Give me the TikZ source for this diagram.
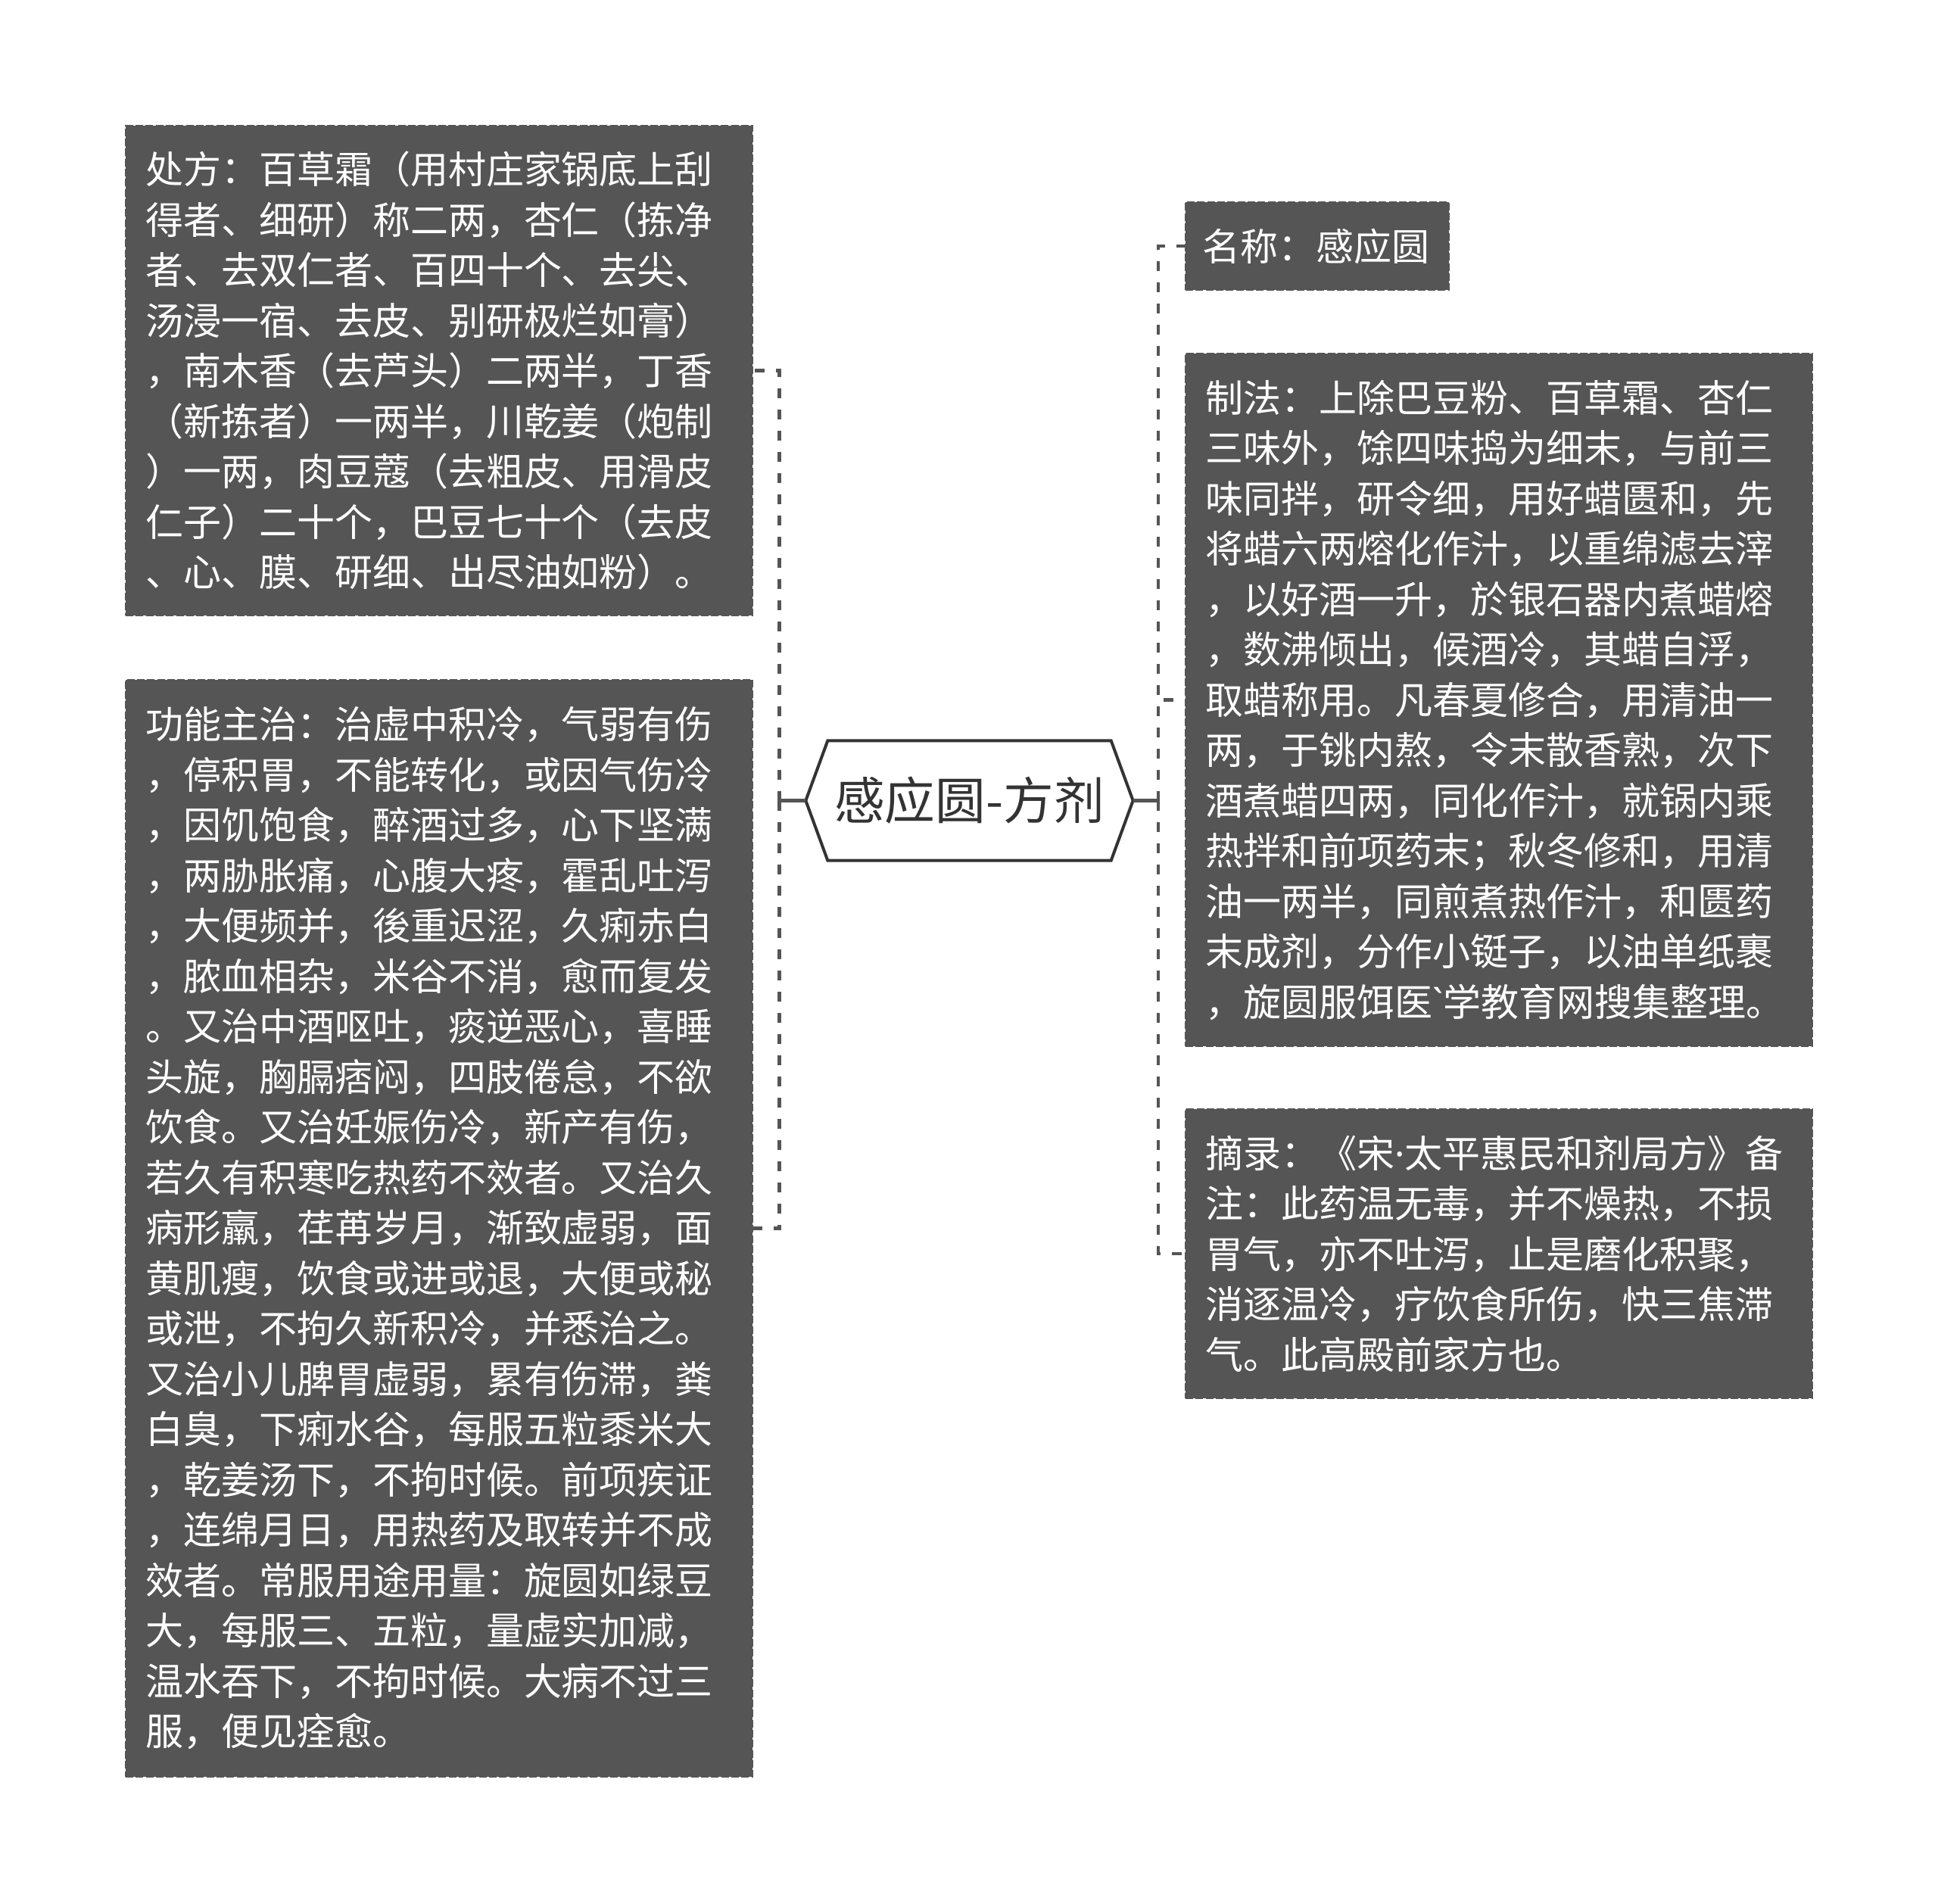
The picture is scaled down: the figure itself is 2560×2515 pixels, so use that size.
\documentclass[tikz,border=0pt]{standalone}
\usepackage{fontspec}
\setmainfont{Noto Sans CJK SC}
\newfontfamily\latinfont{Noto Sans}
\definecolor{BoxGray}{RGB}{85, 85, 85}
\definecolor{InkDark}{RGB}{51, 51, 51}
\usetikzlibrary{arrows.meta, positioning, calc}

\begin{document}
\begin{tikzpicture}[
        x=0.3pt, y=-0.3pt,
        leaf/.style={rectangle, draw=BoxGray, fill=BoxGray, dash pattern=on 3pt off 1pt, line width=0.7pt, text=white, align=left, text width=232.8pt, inner xsep=7.8pt, inner ysep=0pt, minimum width=248.4pt, font=\fontsize{15pt}{19.95pt}\selectfont},
        root/.style={rectangle, inner sep=0pt, minimum width=111.9pt, minimum height=47.1pt, text=InkDark, font=\fontsize{20pt}{24pt}\selectfont},
        hexline/.style={draw=InkDark, line width=1.2pt, line join=miter},
        trunk/.style={draw=BoxGray, line width=1.4pt},
        branch/.style={draw=BoxGray, line width=1.4pt, dash pattern=on 3.9pt off 4.5pt}
    ]
        \useasboundingbox (0,0) rectangle (2560,2515);

        \node [root] (fj) at (1280.5,1057.5) {感应圆-方剂};
        \path [hexline] (fj.north west) -- (fj.north east) -- ([xshift=8.7pt]fj.east) -- (fj.south east) -- (fj.south west) -- ([xshift=-8.7pt]fj.west) -- cycle;

        \node [leaf, minimum height=194.1pt] (cf) at (580,489.5) {处方：百草霜（用村庄家锅底上刮\\得者、细研）称二两，杏仁（拣净\\者、去双仁者、百四十个、去尖、\\汤浸一宿、去皮、别研极烂如膏）\\，南木香（去芦头）二两半，丁香\\（新拣者）一两半，川乾姜（炮制\\）一两，肉豆蔻（去粗皮、用滑皮\\仁子）二十个，巴豆七十个（去皮\\、心、膜、研细、出尽油如粉）。};
        \node [leaf, minimum height=434.7pt] (gn) at (580,1622.5) {功能主治：治虚中积冷，气弱有伤\\，停积胃，不能转化，或因气伤冷\\，因饥饱食，醉酒过多，心下坚满\\，两胁胀痛，心腹大疼，霍乱吐泻\\，大便频并，後重迟涩，久痢赤白\\，脓血相杂，米谷不消，愈而复发\\。又治中酒呕吐，痰逆恶心，喜睡\\头旋，胸膈痞闷，四肢倦怠，不欲\\饮食。又治妊娠伤冷，新产有伤，\\若久有积寒吃热药不效者。又治久\\病形羸，荏苒岁月，渐致虚弱，面\\黄肌瘦，饮食或进或退，大便或秘\\或泄，不拘久新积冷，并悉治之。\\又治小儿脾胃虚弱，累有伤滞，粪\\白臭，下痢水谷，每服五粒黍米大\\，乾姜汤下，不拘时候。前项疾证\\，连绵月日，用热药及取转并不成\\效者。常服用途用量：旋圆如绿豆\\大，每服三、五粒，量虚实加减，\\温水吞下，不拘时候。大病不过三\\服，便见痊愈。};
        \node [leaf, text width=91pt, inner xsep=6.7pt, minimum width=104.4pt, minimum height=34.8pt] (mc) at (1740,325) {名称：感应圆};
        \node [leaf, minimum height=274.5pt] (zf) at (1980,924.5) {制法：上除巴豆粉、百草霜、杏仁\\三味外，馀四味捣为细末，与前三\\味同拌，研令细，用好蜡匮和，先\\将蜡六两熔化作汁，以重绵滤去滓\\，以好酒一升，於银石器内煮蜡熔\\，数沸倾出，候酒冷，其蜡自浮，\\取蜡称用。凡春夏修合，用清油一\\两，于铫内熬，令末散香熟，次下\\酒煮蜡四两，同化作汁，就锅内乘\\热拌和前项药末；秋冬修和，用清\\油一两半，同煎煮热作汁，和匮药\\末成剂，分作小铤子，以油单纸裹\\，旋圆服饵医{\latinfont\symbol{96}}学教育网搜集整理。};
        \node [leaf, minimum height=114.6pt] (zl) at (1980,1656) {摘录：《宋{\latinfont ·}太平惠民和剂局方》备\\注：此药温无毒，并不燥热，不损\\胃气，亦不吐泻，止是磨化积聚，\\消逐温冷，疗饮食所伤，快三焦滞\\气。此高殿前家方也。};

        \coordinate (jl) at (1029.5,1057.5);
        \coordinate (jr) at (1530,1057.5);
        \path [trunk] ([xshift=-8.7pt]fj.west) -- (jl);
        \path [trunk] ([xshift=8.7pt]fj.east) -- (jr);
        \path [branch] (jl) |- (cf.east);
        \path [branch] (jl) |- (gn.east);
        \path [branch] (jr) |- (mc.west);
        \path [branch] (jr) |- (zf.west);
        \path [branch] (jr) |- (zl.west);
    \end{tikzpicture}
\end{document}
